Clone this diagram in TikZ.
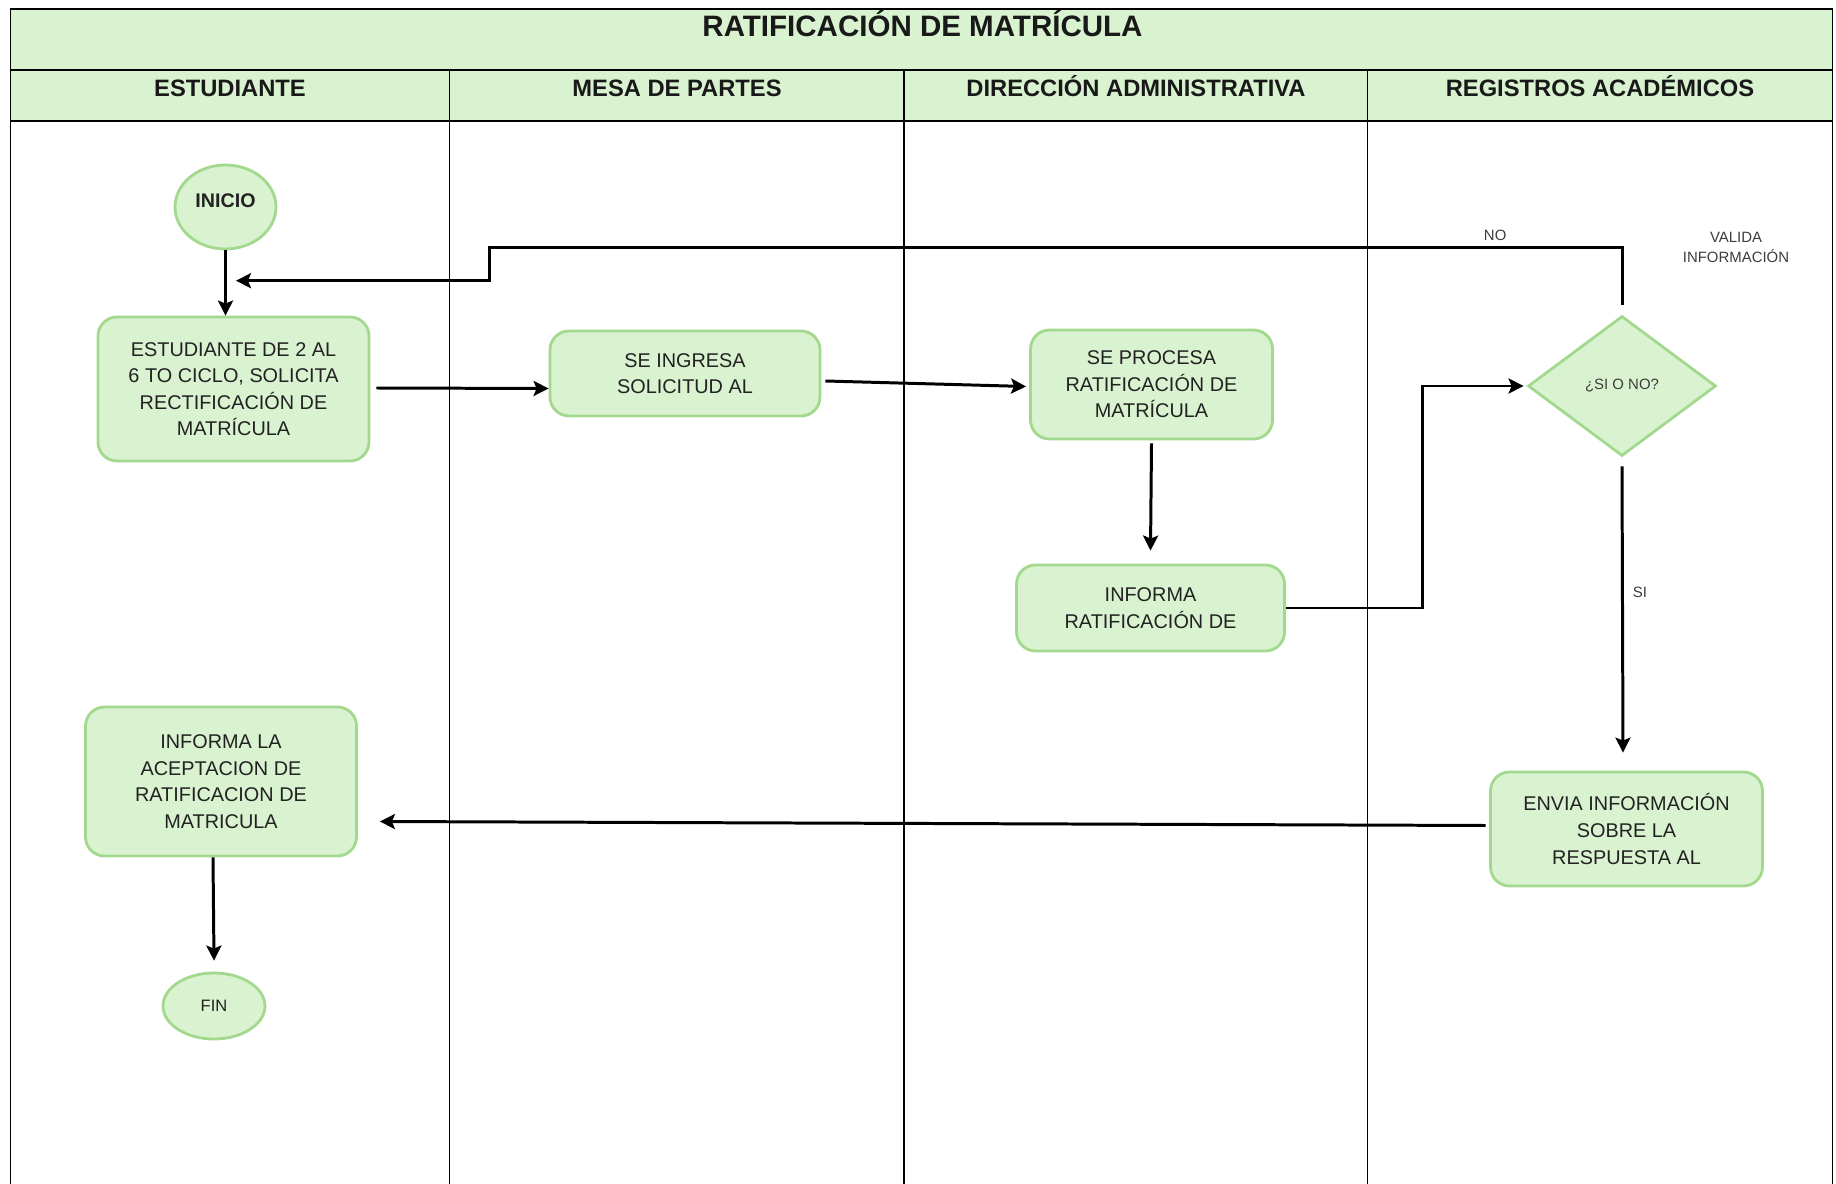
\documentclass[tikz,border=0pt]{standalone}
\usepackage{fontspec}
\setmainfont{Liberation Sans}
\usepackage{tikz}
\usepackage{xcolor}
\usetikzlibrary{
    arrows.meta,
    shapes.geometric
}
\definecolor{verdefondo}{RGB}{217,242,208}
\definecolor{verdeborde}{RGB}{163,217,143}
\definecolor{textocaja}{RGB}{34,34,34}
\definecolor{textogris}{RGB}{60,60,60}
\tikzset{
    tabla/.style={draw=black, line width=1.1pt},
    titulo/.style={anchor=base, font=\bfseries\fontsize{16.8}{20}\selectfont, text=black!90},
    carril/.style={anchor=base, font=\bfseries\fontsize{13.5}{16}\selectfont, text=black!90},
    paso/.style={rectangle, rounded corners=0.38cm, draw=verdeborde, fill=verdefondo, line width=1.6pt, align=center, text=textocaja, font=\fontsize{11.3}{15.1}\selectfont},
    terminal/.style={ellipse, draw=verdeborde, fill=verdefondo, line width=1.6pt, inner sep=0pt, text=textocaja},
    decision/.style={diamond, draw=verdeborde, fill=verdefondo, line width=1.6pt, inner sep=0pt, text=textogris, font=\fontsize{8.5}{11.4}\selectfont},
    etiqueta/.style={align=center, text=textogris, font=\fontsize{8.5}{11.4}\selectfont},
    flecha/.style={->, line width=1.7pt, black}
}

\begin{document}
\begin{tikzpicture}[>={Stealth[length=0.3cm, width=0.3cm, inset=0.06cm]}]
    \useasboundingbox (0, 0) rectangle (36.72, -23.68);
    \fill[verdefondo] (0.21, -0.188) rectangle (36.65, -2.412);
    \draw[tabla] (0.21, -23.68) -- (0.21, -0.188) -- (36.65, -0.188) -- (36.65, -23.68);
    \draw[tabla] (0.21, -1.40) -- (36.65, -1.40);
    \draw[tabla] (0.21, -2.412) -- (36.65, -2.412);
    \draw[tabla] (8.99, -1.40) -- (8.99, -23.68);
    \draw[tabla] (18.08, -1.40) -- (18.08, -23.68);
    \draw[tabla] (27.35, -1.40) -- (27.35, -23.68);

    \node[titulo] (titulo) at (18.45, -0.734) {RATIFICACIÓN DE MATRÍCULA};
    \node[carril] (estudiante) at (4.60, -1.934) {ESTUDIANTE};
    \node[carril] (mesa) at (13.54, -1.934) {MESA DE PARTES};
    \node[carril] (direccion) at (22.72, -1.934) {DIRECCIÓN ADMINISTRATIVA};
    \node[carril] (registros) at (32.00, -1.934) {REGISTROS ACADÉMICOS};

    \node[terminal, minimum width=2.02cm, minimum height=1.68cm, text depth=2.4mm, font=\bfseries\fontsize{11.2}{14}\selectfont] (inicio) at (4.51, -4.14) {INICIO};
    \node[paso, minimum width=5.42cm, minimum height=2.88cm] (est) at (4.67, -7.78) {ESTUDIANTE DE 2 AL\\6 TO CICLO, SOLICITA\\RECTIFICACIÓN DE\\MATRÍCULA};
    \node[paso, minimum width=5.40cm, minimum height=1.70cm] (ing) at (13.70, -7.47) {SE INGRESA\\SOLICITUD AL};
    \node[paso, minimum width=4.84cm, minimum height=2.18cm] (proc) at (23.03, -7.69) {SE PROCESA\\RATIFICACIÓN DE\\MATRÍCULA};
    \node[paso, minimum width=5.36cm, minimum height=1.72cm] (inf) at (23.01, -12.16) {INFORMA\\RATIFICACIÓN DE};
    \node[decision, minimum width=3.76cm, minimum height=2.80cm] (dia) at (32.44, -7.72) {¿SI O NO?};
    \node[etiqueta] (valida) at (34.72, -4.94) {VALIDA\\INFORMACIÓN};
    \node[paso, minimum width=5.44cm, minimum height=2.28cm] (env) at (32.53, -16.58) {ENVIA INFORMACIÓN\\SOBRE LA\\RESPUESTA AL};
    \node[paso, minimum width=5.42cm, minimum height=2.98cm] (acep) at (4.42, -15.63) {INFORMA LA\\ACEPTACION DE\\RATIFICACION DE\\MATRICULA};
    \node[terminal, minimum width=2.04cm, minimum height=1.32cm, font=\fontsize{9.4}{12}\selectfont] (fin) at (4.28, -20.12) {FIN};
    \coordinate (ret) at (4.72, -5.614);

    \draw[flecha] (inicio.south) -- (inicio.south |- est.north);
    \draw[flecha] ([xshift=1.2mm, yshift=0.2mm]est.east) -- ([yshift=-3.0mm]ing.west);
    \draw[flecha] ([xshift=0.8mm, yshift=-1.5mm]ing.east) -- ([xshift=-0.6mm, yshift=-0.4mm]proc.west);
    \draw[flecha] ([yshift=-0.6mm]proc.south) -- ([yshift=2.6mm]inf.north);
    \draw[flecha] (inf.east) -- ++(2.74, 0) |- ([xshift=-0.6mm]dia.west);
    \draw[flecha] ([yshift=-1.8mm]dia.south) -- node[etiqueta, right, pos=0.44, xshift=0.6mm] {SI} ([xshift=-0.7mm, yshift=3.6mm]env.north);
    \draw[flecha] ([yshift=1.9mm]dia.north) -- ++(0, 1.15) -| node[etiqueta, above, pos=0.056] {NO} ([xshift=5.07cm]ret) -- (ret);
    \draw[flecha] ([xshift=-0.7mm, yshift=0.7mm]env.west) -- ([xshift=4.4mm, yshift=-8.0mm]acep.east);
    \draw[flecha] ([xshift=-1.6mm]acep.south) -- ([yshift=2.2mm]fin.north);
\end{tikzpicture}
\end{document}
